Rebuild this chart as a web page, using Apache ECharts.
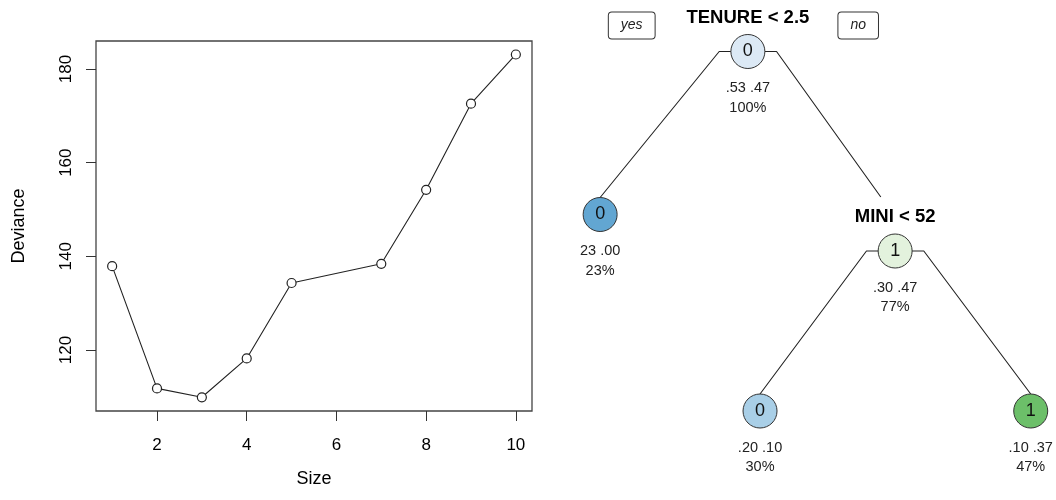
<!DOCTYPE html>
<html>
<head>
<meta charset="utf-8">
<script src="https://cdn.jsdelivr.net/npm/echarts@6/dist/echarts.min.js"></script>
<style>
  html, body { margin: 0; padding: 0; background: #fff; }
  #chart { width: 1056px; height: 500px; }
</style>
</head>
<body>
<div id="chart"></div>
<script>
// ---- Left panel: deviance vs tree size ----
const sizes = [1, 2, 3, 4, 5, 7, 8, 9, 10];
const deviance = [137.9, 111.8, 109.9, 118.2, 134.3, 138.4, 154.2, 172.6, 183.1];
const sizeTicks = [2, 4, 6, 8, 10];
const devianceTicks = [120, 140, 160, 180];

// ---- Right panel: classification tree ----
const nodeClass = ['0', '0', '1', '0', '1'];
const nodeProb = ['.53 .47', '23 .00', '.30 .47', '.20 .10', '.10 .37'];
const nodePct = ['100%', '23%', '77%', '30%', '47%'];
const nodeSplit = ['TENURE < 2.5', '', 'MINI < 52', '', ''];
const edgeParent = [0, 0, 2, 2];
const edgeChild = [1, 2, 3, 4];
const branchTags = ['yes', 'no'];

// tree layout (layout units, 0..100 both ways) and styling
const nodeLayoutX = [36.6, 6.2, 66.9, 39.1, 94.8];
const nodeLayoutY = [10.3, 42.9, 50.2, 82.2, 82.2];
const nodeFill = ['#dce9f5', '#62a6d2', '#e3f2dd', '#a9cfe7', '#6cbf69'];
const STUB = 5.9, SPLIT_UP = 6.8, SPLIT_CLIP = 4.0, NODE_R = 3.4;
const TAG_DX = [-23.9, 22.7], TAG_DY = -5.2;

const FONT = 'Liberation Sans, Arial, Helvetica, sans-serif';

const series = [];

// deviance curve
series.push({
  type: 'line',
  xAxisIndex: 0, yAxisIndex: 0,
  data: sizes.map((s, i) => [s, deviance[i]]),
  symbol: 'circle',
  symbolSize: 9,
  itemStyle: { color: '#fff', borderColor: '#222', borderWidth: 1.2, opacity: 1 },
  lineStyle: { color: '#222', width: 1.1 },
  z: 3
});

// tree edges
edgeParent.forEach((p, k) => {
  const c = edgeChild[k];
  const px = nodeLayoutX[p], py = nodeLayoutY[p];
  const side = nodeLayoutX[c] < px ? -1 : 1;
  const sx = px + side * STUB, sy = py;
  let ex, ey;
  if (nodeSplit[c]) {
    const tx = nodeLayoutX[c], ty = nodeLayoutY[c] - SPLIT_UP;
    const t = (ty - SPLIT_CLIP - sy) / (ty - sy);
    ex = sx + (tx - sx) * t; ey = sy + (ty - sy) * t;
  } else {
    ex = nodeLayoutX[c]; ey = nodeLayoutY[c] - NODE_R;
  }
  series.push({
    type: 'line',
    xAxisIndex: 1, yAxisIndex: 1,
    data: [[px, py], [sx, sy], [ex, ey]],
    showSymbol: false, symbol: 'none',
    lineStyle: { color: '#222', width: 1.1 },
    z: 1, silent: true
  });
});

// split labels
series.push({
  type: 'scatter',
  xAxisIndex: 1, yAxisIndex: 1,
  symbolSize: 1,
  itemStyle: { color: 'rgba(0,0,0,0)', opacity: 1 },
  data: nodeSplit.map((s, i) => s ? { value: [nodeLayoutX[i], nodeLayoutY[i] - SPLIT_UP], name: s } : null).filter(Boolean),
  label: {
    show: true, position: 'inside', formatter: p => p.name,
    fontFamily: FONT, fontWeight: 'bold', fontSize: 18.5, color: '#000'
  },
  z: 2
});

// node circles
series.push({
  type: 'scatter',
  xAxisIndex: 1, yAxisIndex: 1,
  symbol: 'circle',
  symbolSize: 34,
  data: nodeClass.map((c, i) => ({
    value: [nodeLayoutX[i], nodeLayoutY[i]], name: c,
    itemStyle: { color: nodeFill[i], borderColor: '#333', borderWidth: 1, opacity: 1 }
  })),
  label: {
    show: true, position: 'inside', formatter: p => p.name,
    fontFamily: FONT, fontSize: 18, color: '#111'
  },
  z: 3
});

// node stats below
series.push({
  type: 'scatter',
  xAxisIndex: 1, yAxisIndex: 1,
  symbolSize: 34,
  itemStyle: { color: 'rgba(0,0,0,0)', opacity: 1 },
  data: nodeProb.map((pr, i) => ({ value: [nodeLayoutX[i], nodeLayoutY[i]], name: pr + '\n' + nodePct[i] })),
  label: {
    show: true, position: 'bottom', distance: 10, formatter: p => p.name,
    fontFamily: FONT, fontSize: 14.5, lineHeight: 19.5, color: '#222', align: 'center'
  },
  z: 3
});

// yes / no tags
series.push({
  type: 'scatter',
  xAxisIndex: 1, yAxisIndex: 1,
  symbolSize: 1,
  itemStyle: { color: 'rgba(0,0,0,0)', opacity: 1 },
  data: branchTags.map((t, i) => ({ value: [nodeLayoutX[0] + TAG_DX[i], nodeLayoutY[0] + TAG_DY], name: t })),
  label: {
    show: true, position: 'inside', formatter: p => p.name,
    fontFamily: FONT, fontSize: 14, fontStyle: 'italic', color: '#222',
    lineHeight: 16, padding: [5, 12], borderColor: '#333', borderWidth: 1, borderRadius: 3,
    backgroundColor: '#fff'
  },
  z: 4
});

const chart = echarts.init(document.getElementById('chart'), null, { renderer: 'canvas' });
chart.setOption({
  animation: false,
  backgroundColor: '#fff',
  textStyle: { fontFamily: FONT },
  grid: [
    { left: 96, top: 41, width: 436, height: 370, show: true, borderColor: '#444', borderWidth: 1.3, backgroundColor: 'transparent' },
    { left: 570, top: 0, width: 486, height: 500, show: false }
  ],
  xAxis: [
    {
      type: 'value', gridIndex: 0, min: 0.64, max: 10.36,
      name: 'Size', nameLocation: 'middle', nameGap: 59,
      nameTextStyle: { fontFamily: FONT, fontSize: 18, color: '#000' },
      axisLine: { show: false },
      axisTick: { show: true, length: 10, inside: false, customValues: sizeTicks, lineStyle: { color: '#333' } },
      axisLabel: { customValues: sizeTicks, margin: 26, fontFamily: FONT, fontSize: 17, color: '#000' },
      splitLine: { show: false }
    },
    { type: 'value', gridIndex: 1, min: 0, max: 100, show: false }
  ],
  yAxis: [
    {
      type: 'value', gridIndex: 0, min: 106.97, max: 185.98,
      name: 'Deviance', nameLocation: 'middle', nameGap: 68, nameRotate: 90,
      nameTextStyle: { fontFamily: FONT, fontSize: 18, color: '#000' },
      axisLine: { show: false },
      axisTick: { show: true, length: 10, inside: false, customValues: devianceTicks, lineStyle: { color: '#333' } },
      axisLabel: { customValues: devianceTicks, rotate: 90, margin: 21, fontFamily: FONT, fontSize: 17, color: '#000' },
      splitLine: { show: false }
    },
    { type: 'value', gridIndex: 1, min: 0, max: 100, inverse: true, show: false }
  ],
  series: series
});
</script>
</body>
</html>
